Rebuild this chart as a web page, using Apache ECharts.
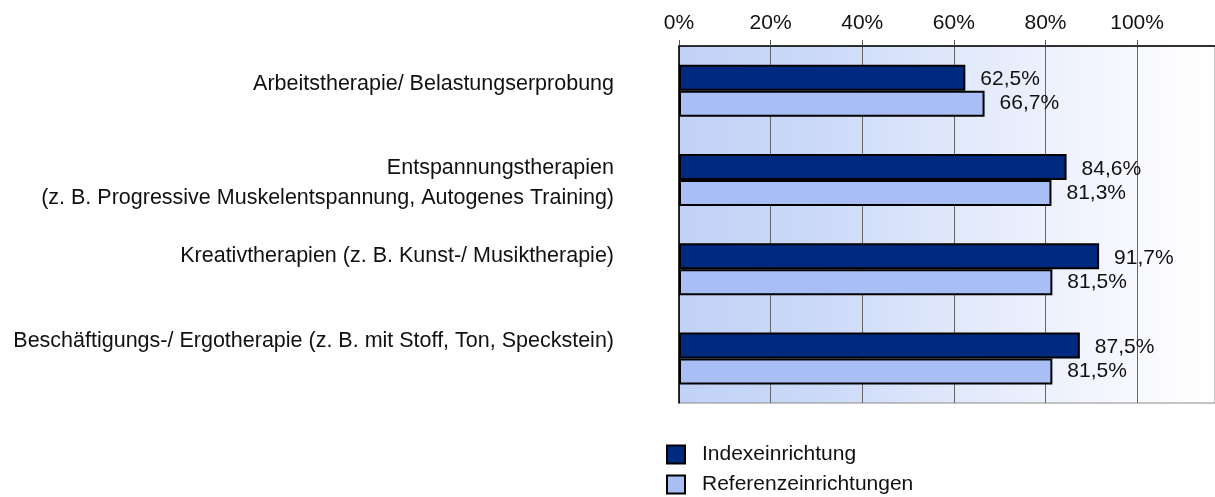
<!DOCTYPE html>
<html>
<head>
<meta charset="utf-8">
<script src="https://cdn.jsdelivr.net/npm/echarts@6/dist/echarts.min.js"></script>
<style>
  html, body { margin: 0; padding: 0; background: #fff; }
  #chart { width: 1215px; height: 497px; }
</style>
</head>
<body>
<div id="chart"></div>
<script>
// Kategorien (von oben nach unten)
const categories = [
  'Arbeitstherapie/ Belastungserprobung',
  'Entspannungstherapien\n(z. B. Progressive Muskelentspannung, Autogenes Training)',
  'Kreativtherapien (z. B. Kunst-/ Musiktherapie)',
  'Beschäftigungs-/ Ergotherapie (z. B. mit Stoff, Ton, Speckstein)'
]
const seriesNames = ['Indexeinrichtung', 'Referenzeinrichtungen']
const indexValues = [62.5, 84.6, 91.7, 87.5]
const referenzValues = [66.7, 81.3, 81.5, 81.5]
const xTicks = [0, 20, 40, 60, 80, 100]

// Beschriftungen sitzen im Original nicht ganz mittig (px nach oben)
const labelLift = [7, -3, 13, 17]

const FONT = '"Liberation Sans", Arial, sans-serif'

const chart = echarts.init(document.getElementById('chart'))

const fmt = v => String(v).replace('.', ',')

const rich = {}
labelLift.forEach((s, i) => {
  rich['l' + i] = {
    fontSize: 21.5,
    color: '#111',
    fontFamily: FONT,
    lineHeight: 30,
    align: 'right',
    padding: s > 0 ? [0, 0, 2 * s, 0] : [-2 * s, 0, 0, 0]
  }
})

const legendBase = {
  orient: 'vertical',
  left: 666,
  padding: 0,
  itemWidth: 18,
  itemHeight: 18,
  icon: 'rect',
  itemStyle: { borderColor: '#000', borderWidth: 2 },
  textStyle: { fontSize: 21, color: '#111', fontFamily: FONT, padding: [0, 0, 0, 12] }
}

chart.setOption({
  backgroundColor: '#fff',
  animation: false,
  textStyle: { fontFamily: FONT },
  grid: {
    left: 679,
    top: 46,
    right: -1,
    bottom: 94,
    show: true,
    borderColor: '#8a8a8a',
    borderWidth: 1,
    backgroundColor: new echarts.graphic.LinearGradient(0, 0, 1, 0, [
      { offset: 0, color: '#c1d2f7' },
      { offset: 0.25, color: '#cbd9f8' },
      { offset: 0.55, color: '#e3eafb' },
      { offset: 0.85, color: '#f8f9fe' },
      { offset: 1, color: '#ffffff' }
    ])
  },
  legend: [
    Object.assign({}, legendBase, { top: 444, data: [seriesNames[0]] }),
    Object.assign({}, legendBase, { top: 474, data: [seriesNames[1]] })
  ],
  xAxis: {
    type: 'value',
    position: 'top',
    min: 0,
    max: 117,
    interval: 20,
    axisLine: { show: true, lineStyle: { color: '#000', width: 1.5 } },
    axisTick: { show: true, length: 6, lineStyle: { color: '#555' } },
    axisLabel: {
      fontSize: 21,
      color: '#111',
      margin: 12,
      showMaxLabel: false,
      formatter: v => (xTicks.indexOf(v) >= 0 ? v + '%' : '')
    },
    splitLine: { show: true, lineStyle: { color: '#666', width: 1 } }
  },
  yAxis: {
    type: 'category',
    inverse: true,
    data: categories,
    axisLine: { show: true, lineStyle: { color: '#000', width: 1.5 } },
    axisTick: { show: false },
    axisLabel: {
      fontSize: 21.5,
      color: '#111',
      margin: 65,
      align: 'right',
      lineHeight: 30,
      formatter: (v, i) => v.split('\n').map(line => '{l' + i + '|' + line + '}').join('\n'),
      rich: rich
    }
  },
  series: [
    {
      name: seriesNames[0],
      type: 'bar',
      data: indexValues,
      barWidth: 26,
      barGap: '0%',
      itemStyle: { color: '#002a80', borderColor: '#000', borderWidth: 2 },
      label: {
        show: true,
        position: 'right',
        distance: 15,
        fontSize: 21,
        color: '#111',
        offset: [0, 2],
        formatter: p => fmt(p.value) + '%'
      }
    },
    {
      name: seriesNames[1],
      type: 'bar',
      data: referenzValues,
      barWidth: 26,
      barGap: '0%',
      itemStyle: { color: '#a8bef4', borderColor: '#000', borderWidth: 2 },
      label: {
        show: true,
        position: 'right',
        distance: 15,
        fontSize: 21,
        color: '#111',
        formatter: p => fmt(p.value) + '%'
      }
    }
  ]
})
</script>
</body>
</html>
